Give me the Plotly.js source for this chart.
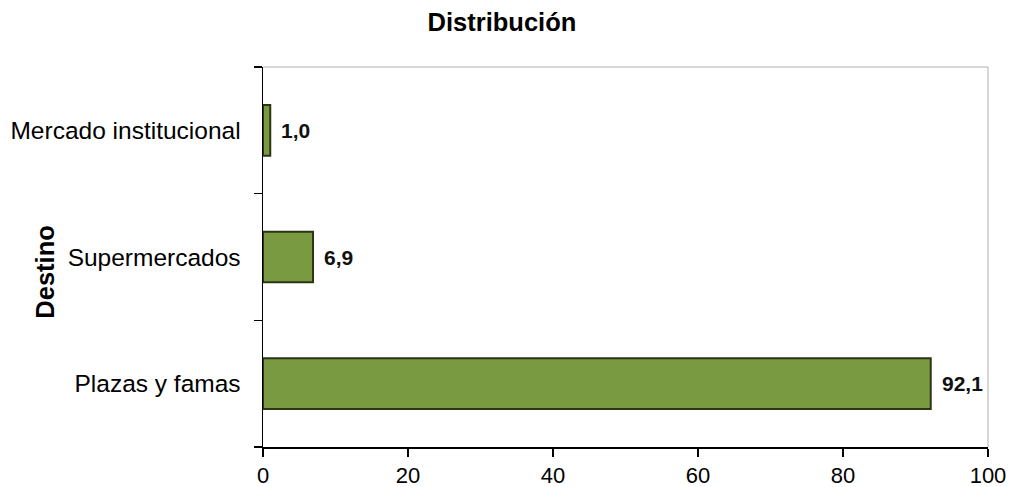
<!DOCTYPE html>
<html>
<head>
<meta charset="utf-8">
<script src="https://cdn.plot.ly/plotly-3.0.1.min.js"></script>
<style>html,body{margin:0;padding:0;background:#fff;}#chart{width:1010px;height:487px;}</style>
</head>
<body>
<div id="chart"></div>
<script>
var categories = ["Plazas y famas", "Supermercados", "Mercado institucional"];
var values = [92.1, 6.9, 1.0];
var xTicks = [0, 20, 40, 60, 80, 100];

var FONT = "Liberation Sans, Arial, sans-serif";

var trace = {
  type: "bar",
  orientation: "h",
  y: categories,
  x: values,
  marker: {color: "#7a9a42", line: {color: "#2b3513", width: 2}},
  hoverinfo: "none"
};

var annotations = values.map(function (v, i) {
  return {
    x: v, y: categories[i], xref: "x", yref: "y",
    text: "<b>" + v.toFixed(1).replace(".", ",") + "</b>",
    showarrow: false, xanchor: "left", xshift: 9,
    font: {family: FONT, size: 21, color: "#111"}
  };
});
annotations.push({
  x: -0.30, y: 0.46, xref: "paper", yref: "paper",
  text: "<b>Destino</b>", textangle: -90, showarrow: false,
  xanchor: "center", yanchor: "middle",
  font: {family: FONT, size: 25.5, color: "#000"}
});

var layout = {
  width: 1010, height: 487,
  margin: {l: 263, r: 22, t: 67, b: 40},
  paper_bgcolor: "#fff", plot_bgcolor: "#fff",
  separators: ",.",
  showlegend: false,
  bargap: 0.6,
  title: {text: "<b>Distribución</b>", x: 0.497, xref: "container", y: 0.955, yanchor: "middle",
          font: {family: FONT, size: 25.5, color: "#000"}},
  xaxis: {
    range: [0, 100], tickvals: xTicks, ticktext: xTicks.map(String),
    showgrid: false, zeroline: false,
    showline: true, linecolor: "#000", linewidth: 1.5,
    ticks: "outside", ticklen: 8, tickwidth: 1.5, tickcolor: "#000",
    tickfont: {family: FONT, size: 22, color: "#000"}
  },
  yaxis: {
    type: "category", categoryorder: "array", categoryarray: categories,
    range: [-0.5, 2.5],
    showgrid: false, zeroline: false,
    showline: true, linecolor: "#000", linewidth: 1.5,
    ticks: "outside", tickson: "boundaries", ticklen: 8, tickwidth: 1.5, tickcolor: "#000",
    ticklabelstandoff: 16,
    tickfont: {family: FONT, size: 24.5, color: "#000"}
  },
  shapes: [
    {type: "line", xref: "paper", yref: "paper", x0: 0, x1: 1, y0: 1, y1: 1, line: {color: "#b0b0b0", width: 1}},
    {type: "line", xref: "paper", yref: "paper", x0: 1, x1: 1, y0: 0, y1: 1, line: {color: "#b0b0b0", width: 1}}
  ],
  annotations: annotations
};

Plotly.newPlot("chart", [trace], layout, {displayModeBar: false, staticPlot: true});
</script>
</body>
</html>
